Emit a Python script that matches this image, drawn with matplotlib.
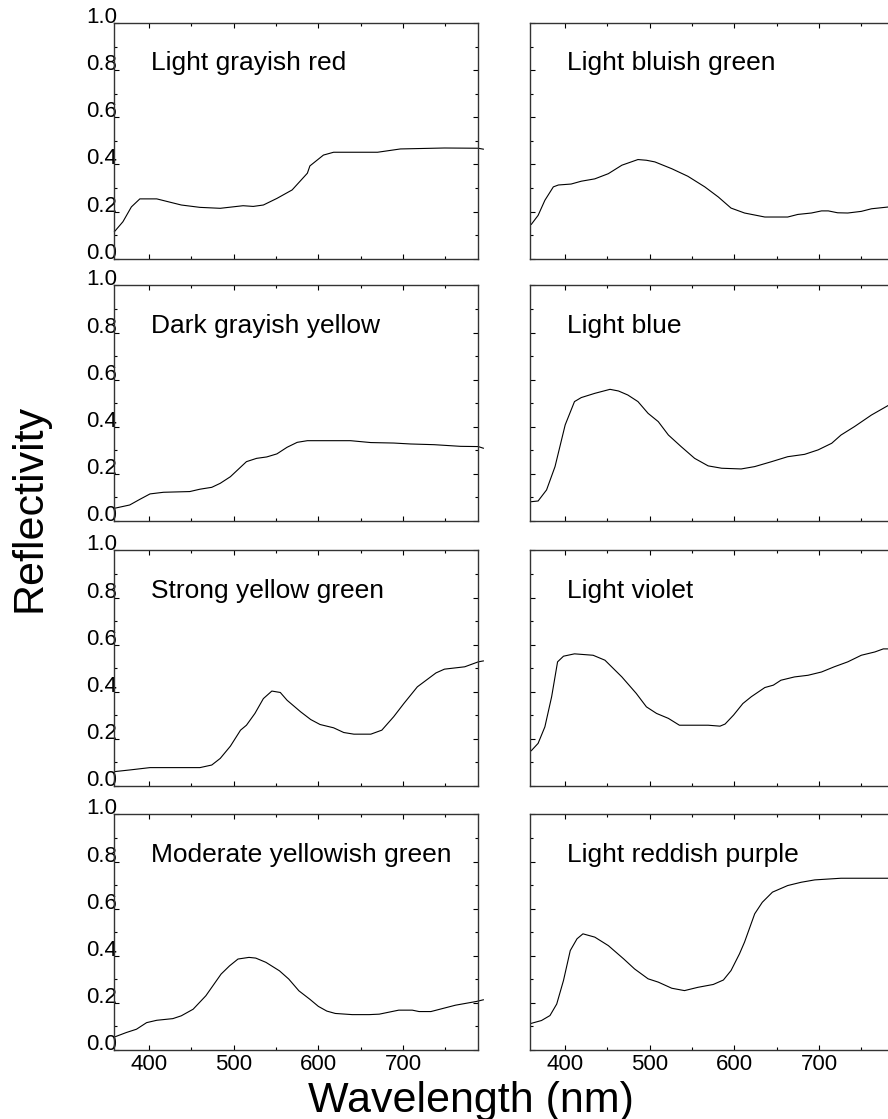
import matplotlib
matplotlib.use('Agg')
import matplotlib.pyplot as plt
from matplotlib.ticker import MultipleLocator

plt.rcParams['font.family'] = ['Liberation Sans', 'DejaVu Sans']

names = ['Light grayish red', 'Light bluish green',
         'Dark grayish yellow', 'Light blue',
         'Strong yellow green', 'Light violet',
         'Moderate yellowish green', 'Light reddish purple']

# left column
wl_gray_red = [359, 369, 379, 389, 409, 438, 460, 484, 511, 523, 535, 551, 569, 587, 590, 606, 618, 670, 697, 749, 789, 795]
r_gray_red = [0.115, 0.157, 0.22, 0.254, 0.254, 0.228, 0.218, 0.214, 0.225, 0.222, 0.228, 0.256, 0.292, 0.363, 0.394, 0.44, 0.452, 0.452, 0.466, 0.47, 0.469, 0.465]

wl_dark_yellow = [359, 377, 389, 401, 417, 448, 460, 474, 484, 496, 515, 527, 539, 551, 563, 575, 587, 638, 662, 689, 709, 737, 768, 789, 795]
r_dark_yellow = [0.054, 0.068, 0.092, 0.115, 0.122, 0.125, 0.135, 0.143, 0.16, 0.188, 0.252, 0.266, 0.272, 0.285, 0.313, 0.334, 0.341, 0.341, 0.333, 0.331, 0.327, 0.324, 0.317, 0.316, 0.309]

wl_yellow_green = [359, 377, 401, 460, 474, 484, 496, 508, 515, 525, 535, 545, 555, 563, 579, 591, 602, 618, 630, 642, 662, 675, 689, 701, 717, 739, 749, 773, 789, 795]
r_yellow_green = [0.061, 0.068, 0.078, 0.078, 0.089, 0.117, 0.169, 0.237, 0.258, 0.308, 0.371, 0.403, 0.397, 0.364, 0.315, 0.282, 0.261, 0.247, 0.227, 0.22, 0.22, 0.237, 0.294, 0.35, 0.421, 0.48, 0.496, 0.506, 0.527, 0.531]

wl_mod_green = [359, 373, 385, 397, 409, 428, 438, 452, 467, 485, 495, 505, 518, 526, 538, 554, 565, 577, 590, 600, 610, 620, 640, 660, 672, 695, 711, 719, 733, 762, 787, 795]
r_mod_green = [0.055, 0.074, 0.088, 0.116, 0.126, 0.133, 0.145, 0.173, 0.23, 0.322, 0.357, 0.386, 0.393, 0.39, 0.372, 0.336, 0.301, 0.251, 0.215, 0.185, 0.165, 0.155, 0.15, 0.15, 0.152, 0.169, 0.169, 0.163, 0.163, 0.19, 0.206, 0.213]

# right column
wl_bluish_green = [360, 368, 376, 386, 392, 407, 419, 435, 451, 467, 486, 496, 506, 526, 545, 565, 581, 596, 612, 636, 663, 675, 691, 703, 711, 722, 734, 750, 762, 783, 795]
r_bluish_green = [0.146, 0.184, 0.248, 0.305, 0.313, 0.317, 0.329, 0.339, 0.361, 0.397, 0.421, 0.418, 0.411, 0.382, 0.35, 0.305, 0.262, 0.215, 0.194, 0.177, 0.177, 0.188, 0.194, 0.203, 0.203, 0.195, 0.194, 0.201, 0.212, 0.22, 0.228]

wl_blue = [360, 368, 378, 388, 400, 411, 419, 435, 453, 463, 474, 486, 498, 510, 522, 537, 553, 569, 585, 608, 624, 644, 663, 683, 699, 715, 726, 742, 762, 783, 795]
r_blue = [0.082, 0.085, 0.132, 0.231, 0.408, 0.507, 0.524, 0.542, 0.559, 0.552, 0.535, 0.507, 0.457, 0.422, 0.365, 0.316, 0.266, 0.234, 0.224, 0.221, 0.231, 0.252, 0.273, 0.283, 0.302, 0.33, 0.365, 0.401, 0.45, 0.493, 0.51]

wl_violet = [360, 368, 376, 384, 391, 398, 411, 433, 447, 467, 484, 496, 508, 522, 535, 569, 583, 589, 599, 610, 620, 636, 646, 655, 671, 687, 703, 718, 734, 750, 766, 776, 795]
r_violet = [0.15, 0.181, 0.251, 0.379, 0.527, 0.551, 0.561, 0.555, 0.534, 0.463, 0.393, 0.336, 0.308, 0.287, 0.258, 0.258, 0.254, 0.263, 0.301, 0.35, 0.379, 0.418, 0.428, 0.449, 0.463, 0.47, 0.484, 0.506, 0.527, 0.555, 0.569, 0.582, 0.582]

wl_purple = [360, 372, 382, 390, 398, 406, 414, 421, 435, 451, 469, 482, 498, 510, 526, 541, 557, 575, 587, 596, 606, 612, 624, 633, 645, 663, 679, 695, 726, 795]
r_purple = [0.113, 0.125, 0.146, 0.195, 0.295, 0.422, 0.472, 0.493, 0.479, 0.443, 0.387, 0.344, 0.302, 0.288, 0.262, 0.252, 0.266, 0.278, 0.297, 0.337, 0.408, 0.458, 0.578, 0.627, 0.67, 0.698, 0.712, 0.722, 0.729, 0.729]

wls = [wl_gray_red, wl_bluish_green, wl_dark_yellow, wl_blue,
       wl_yellow_green, wl_violet, wl_mod_green, wl_purple]
refl = [r_gray_red, r_bluish_green, r_dark_yellow, r_blue,
        r_yellow_green, r_violet, r_mod_green, r_purple]

fig = plt.figure(figsize=(8.88, 11.19), dpi=100)

lefts = [0.1289, 0.5974]
bottoms = [0.7688, 0.5344, 0.2976, 0.0617]
w, h = 0.4097, 0.2105

for i in range(8):
    row, col = i // 2, i % 2
    ax = fig.add_axes([lefts[col], bottoms[row], w, h])
    ax.plot(wls[i], refl[i], color='black', lw=0.8, clip_on=False)
    ax.set_xlim(359, 789)
    ax.set_ylim(0, 1)
    ax.xaxis.set_major_locator(MultipleLocator(100))
    ax.xaxis.set_minor_locator(MultipleLocator(50))
    ax.yaxis.set_major_locator(MultipleLocator(0.2))
    ax.yaxis.set_minor_locator(MultipleLocator(0.1))
    ax.tick_params(which='both', direction='in', top=True, right=True,
                   labelsize=16, width=0.8)
    ax.tick_params(which='major', length=3.5)
    ax.tick_params(which='minor', length=2.5)
    ax.tick_params(axis='y', pad=-2)
    ax.tick_params(axis='x', pad=3)
    for s in ax.spines.values():
        s.set_linewidth(1.0)
        s.set_color('#333333')
    if col == 0:
        ax.set_yticks([0, 0.2, 0.4, 0.6, 0.8, 1.0])
        ax.set_yticklabels(['0.0', '0.2', '0.4', '0.6', '0.8', '1.0'])
        plt.setp(ax.get_yticklabels(), va='baseline')
    else:
        ax.set_yticklabels([])
    if row < 3:
        ax.set_xticklabels([])
    ax.text(402, 0.8, names[i], fontsize=19, va='baseline', ha='left')

fig.text(0.033, 0.546, 'Reflectivity', rotation=90, fontsize=31,
         ha='center', va='center')
fig.text(0.53, 1 - 1112 / 1119, 'Wavelength (nm)', fontsize=31,
         ha='center', va='baseline')

fig.savefig('out.png', dpi=100)
